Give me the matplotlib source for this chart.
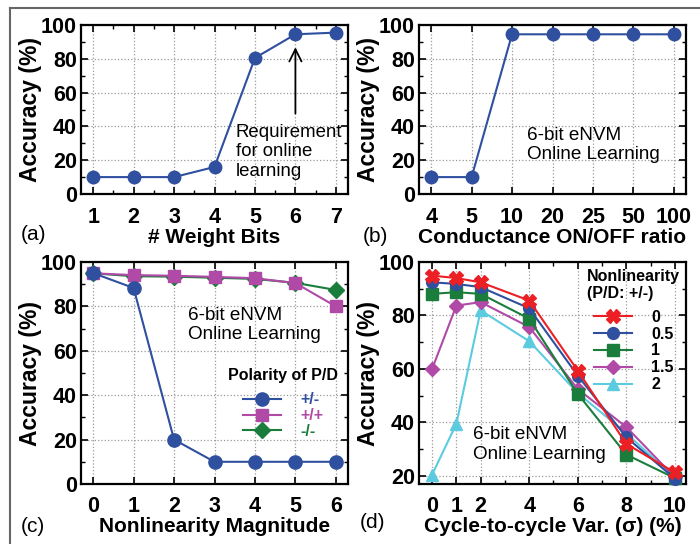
"""Four-panel eNVM online-learning accuracy figure."""

import matplotlib
matplotlib.use("Agg")
import matplotlib.pyplot as plt
import matplotlib.ticker as mticker
from matplotlib.lines import Line2D
import numpy as np

# ── Data ──
bits = [1, 2, 3, 4, 5, 6, 7]
acc_bits = [10, 10, 10, 16, 80.5, 94.5, 95.5]

onoff_labels = ["4", "5", "10", "20", "25", "50", "100"]
acc_onoff = [10, 10, 94.5, 94.5, 94.5, 94.5, 94.5]

nl_mag = [0, 1, 2, 3, 4, 5, 6]
acc_pm = [95, 88.3, 20, 10, 10, 10, 10]
acc_pp = [94.9, 94.1, 93.8, 93.3, 92.7, 90.5, 80]
acc_mm = [94.9, 93.6, 93.4, 92.9, 92.4, 90.6, 87.4]
pol_labels = ["+/-", "+/+", "-/-"]

c2c_var = [0, 1, 2, 4, 6, 8, 10]
acc_nl0 = [94.9, 94.0, 92.4, 85.6, 59.4, 32.0, 21.3]
acc_nl05 = [92.4, 91.8, 90.6, 82.7, 57.5, 34.5, 19.0]
acc_nl1 = [88.1, 88.7, 88.1, 78.8, 50.7, 28.0, 19.2]
acc_nl15 = [60.0, 83.7, 85.0, 75.7, 52.5, 38.3, 19.5]
acc_nl2 = [20.5, 39.5, 81.9, 70.4, 51.0, 36.0, 19.2]
nl_labels = ["0", "0.5", "1", "1.5", "2"]

# ── Style ──
plt.rcParams.update({
    "font.family": ["Liberation Sans", "DejaVu Sans"],
    "font.size": 13,
    "axes.linewidth": 1.6,
    "lines.linewidth": 1.5,
})

BLUE = "#2f4f9f"
PINK = "#b04aa6"
GREEN = "#1a7d3c"
RED = "#ec2024"
CYAN = "#5ccbe0"
W, H = 700, 544

fig = plt.figure(figsize=(7, 5.44), dpi=100)


def px_axes(left, top, right, bottom):
    return fig.add_axes([left / W, 1 - bottom / H, (right - left) / W, (bottom - top) / H])


def style(ax, xlabel):
    ax.tick_params(which="both", direction="in", top=True, right=True)
    ax.tick_params(which="major", length=5, width=1.2)
    ax.tick_params(which="minor", length=3, width=1.0)
    ax.tick_params(axis="x", pad=9)
    ax.tick_params(axis="y", pad=3)
    for t in ax.get_xticklabels() + ax.get_yticklabels():
        t.set_fontweight("bold")
        t.set_fontsize(15.5)
    ax.grid(which="major", linestyle=":", color="#999999", lw=0.9)
    ax.set_axisbelow(True)
    ax.set_ylabel("Accuracy (%)", fontsize=16.5, fontweight="bold", labelpad=-0.5)
    ax.set_xlabel(xlabel, fontsize=15, fontweight="bold", labelpad=0)


# frame around the figure (cropped on right/bottom)
fig.add_artist(Line2D([10 / W, 10 / W], [0, 1 - 8 / H], color="#666666", lw=1.5))
fig.add_artist(Line2D([10 / W, 1], [1 - 8 / H, 1 - 8 / H], color="#666666", lw=1.5))

# ============================================================
# (a) weight bits
# ============================================================
ax = px_axes(81, 25, 348, 194)
ax.plot(bits, acc_bits, "-o", color=BLUE, ms=9, clip_on=False, zorder=3)
ax.set_xlim(0.7, 7.3)
ax.set_ylim(0, 100)
ax.set_xticks(bits)
ax.xaxis.set_minor_locator(mticker.MultipleLocator(0.5))
ax.yaxis.set_major_locator(mticker.MultipleLocator(20))
ax.yaxis.set_minor_locator(mticker.MultipleLocator(10))
style(ax, "# Weight Bits")
ax.annotate("", xy=(6, 88.5), xytext=(6, 46),
            arrowprops=dict(arrowstyle="->", color="black", lw=1.3, mutation_scale=22))
ax.text(4.53, 41.5, "Requirement\nfor online\nlearning", ha="left", va="top",
        fontsize=13.4, linespacing=1.2)

# ============================================================
# (b) ON/OFF ratio
# ============================================================
ax = px_axes(419, 25, 686, 194)
xb = np.arange(len(onoff_labels))
ax.plot(xb, acc_onoff, "-o", color=BLUE, ms=9, clip_on=False, zorder=3)
ax.set_xlim(-0.3, 6.3)
ax.set_ylim(0, 100)
ax.set_xticks(xb)
ax.set_xticklabels(onoff_labels)
ax.yaxis.set_major_locator(mticker.MultipleLocator(20))
ax.yaxis.set_minor_locator(mticker.MultipleLocator(10))
style(ax, "Conductance ON/OFF ratio")
ax.text(2.37, 29, "6-bit eNVM\nOnline Learning", ha="left", va="center",
        fontsize=13.6, linespacing=1.2)

# ============================================================
# (c) nonlinearity magnitude
# ============================================================
ax = px_axes(81, 262, 348, 484)
ax.plot(nl_mag, acc_mm, "-D", color=GREEN, ms=8, clip_on=False, zorder=3, label=pol_labels[2])
ax.plot(nl_mag, acc_pp, "-s", color=PINK, ms=8.5, clip_on=False, zorder=4, label=pol_labels[1])
ax.plot(nl_mag, acc_pm, "-o", color=BLUE, ms=9.5, clip_on=False, zorder=5, label=pol_labels[0])
ax.set_xlim(-0.3, 6.3)
ax.set_ylim(0, 100)
ax.set_xticks(nl_mag)
ax.yaxis.set_major_locator(mticker.MultipleLocator(20))
ax.yaxis.set_minor_locator(mticker.MultipleLocator(10))
style(ax, "Nonlinearity Magnitude")
ax.text(2.35, 71.6, "6-bit eNVM\nOnline Learning", ha="left", va="center",
        fontsize=13.6, linespacing=1.2)
h, l = ax.get_legend_handles_labels()
order = [2, 1, 0]
leg = ax.legend([h[i] for i in order], [l[i] for i in order], loc="upper left",
                bbox_to_anchor=(0.52, 0.56), frameon=False, borderpad=0,
                handlelength=2.4, handletextpad=1.2, labelspacing=0.05,
                title="Polarity of P/D",
                prop={"weight": "bold", "size": 11.5},
                title_fontproperties={"weight": "bold", "size": 11.5})
leg._legend_box.sep = 7
for txt, col in zip(leg.get_texts(), [BLUE, PINK, GREEN]):
    txt.set_color(col)

# ============================================================
# (d) cycle-to-cycle variation
# ============================================================
ax = px_axes(419, 262, 686, 484)
ax.plot(c2c_var, acc_nl2, "-^", color=CYAN, ms=8, clip_on=False, zorder=3, label=nl_labels[4])
ax.plot(c2c_var, acc_nl15, "-D", color=PINK, ms=7.5, clip_on=False, zorder=4, label=nl_labels[3])
ax.plot(c2c_var, acc_nl1, "-s", color=GREEN, ms=8.5, clip_on=False, zorder=5, label=nl_labels[2])
ax.plot(c2c_var, acc_nl05, "-o", color=BLUE, ms=8.5, clip_on=False, zorder=6, label=nl_labels[1])
ax.plot(c2c_var, acc_nl0, "-X", color=RED, ms=9.5, clip_on=False, zorder=7, label=nl_labels[0])
ax.set_xlim(-0.54, 10.46)
ax.set_ylim(17, 100)
ax.set_xticks(c2c_var)
ax.xaxis.set_minor_locator(mticker.FixedLocator([3, 5, 7, 9]))
ax.yaxis.set_major_locator(mticker.FixedLocator([20, 40, 60, 80, 100]))
ax.yaxis.set_minor_locator(mticker.FixedLocator([30, 50, 70, 90]))
style(ax, "Cycle-to-cycle Var. (σ) (%)")
ax.text(1.69, 31.7, "6-bit eNVM\nOnline Learning", ha="left", va="center",
        fontsize=13.6, linespacing=1.2)
h, l = ax.get_legend_handles_labels()
leg = ax.legend(h[::-1], l[::-1], loc="upper left",
                bbox_to_anchor=(0.6, 1.005), frameon=False, borderpad=0,
                handlelength=2.4, handletextpad=1.2, labelspacing=0.12,
                title="Nonlinearity\n(P/D: +/-)",
                prop={"weight": "bold", "size": 11.5},
                title_fontproperties={"weight": "bold", "size": 11.5})
leg._legend_box.sep = 6

# panel tags
for tag, x, y in [("(a)", 34, 235), ("(b)", 375, 237), ("(c)", 33, 526), ("(d)", 372, 522)]:
    fig.text(x / W, 1 - y / H, tag, ha="center", va="center", fontsize=15)

fig.savefig("out.png", dpi=100)
plt.close(fig)
